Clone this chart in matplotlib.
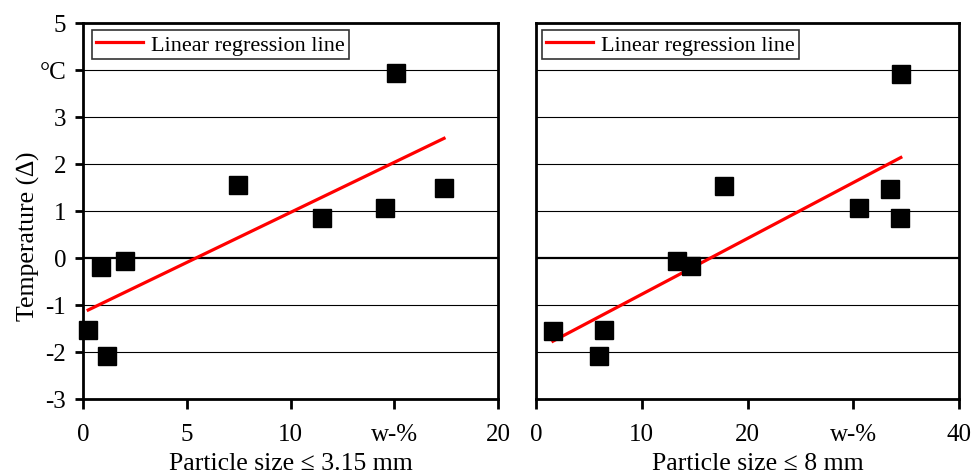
import numpy as np
import matplotlib
matplotlib.use("Agg")
import matplotlib.pyplot as plt

# ===== Data =====
x_315 = [7.47, 11.5, 14.55, 15.08, 17.4, 0.85, 2.02, 0.25, 1.16]
y_315 = [1.55, 0.85, 1.06, 3.93, 1.49, -0.19, -0.06, -1.53, -2.09]
fit_315 = [0.213, -1.16]  # slope, intercept

x_8 = [17.8, 34.5, 33.5, 30.5, 34.4, 13.3, 14.65, 1.6, 6.4, 5.96]
y_8 = [1.53, 3.92, 1.47, 1.06, 0.85, -0.06, -0.18, -1.55, -1.53, -2.09]
fit_8 = [0.1188, -1.96]

y_ticks = [-3, -2, -1, 0, 1, 2, 3, 4, 5]
y_ticklabels = ["-3", "-2", "-1", "0", "1", "2", "3", "\u00b0C", "5"]
x_ticks_315 = [0, 5, 10, 15, 20]
x_ticklabels_315 = ["0", "5", "10", "w-%", "20"]
x_ticks_8 = [0, 10, 20, 30, 40]
x_ticklabels_8 = ["0", "10", "20", "w-%", "40"]
# ==========================================

plt.rcParams['font.family'] = ['Liberation Serif', 'DejaVu Serif']
TICK_FS = 18
LABEL_FS = 18.5
LEG_FS = 16


def draw_panel(ax, x, y, fit, xticks, xticklabels, xlabel, show_y, leg_dx):
    ax.set_xlim(xticks[0], xticks[-1])
    ax.set_ylim(-3, 5)
    for yt in y_ticks[1:-1]:
        lw = 1.6 if yt == 0 else 0.8
        ax.axhline(yt, color='black', lw=lw, zorder=1)
    xs = np.array([min(x), max(x)])
    ax.plot(xs, fit[0] * xs + fit[1], color='red', lw=2.3,
            label='Linear regression line', zorder=3)
    ax.plot(x, y, 's', color='black', ms=13.5, zorder=4, clip_on=False)
    for s in ax.spines.values():
        s.set_linewidth(2)
    ax.set_xticks(xticks)
    ax.set_xticklabels(xticklabels, fontsize=TICK_FS)
    ax.tick_params(axis='x', direction='out', length=7, width=2, pad=10)
    ax.set_yticks(y_ticks)
    if show_y:
        ax.set_yticklabels(y_ticklabels, fontsize=TICK_FS)
        ax.tick_params(axis='y', direction='out', length=6, width=2, pad=6)
    else:
        ax.tick_params(axis='y', length=0, labelleft=False)
    ax.set_xlabel(xlabel, fontsize=LABEL_FS, labelpad=5)
    w = ax.get_position().width * 972
    leg = ax.legend(loc='upper left', bbox_to_anchor=(leg_dx / w, 1 - 7 / 376),
                    fontsize=LEG_FS, frameon=True, fancybox=False,
                    borderaxespad=0, borderpad=0.2, handlelength=2.1,
                    handletextpad=0.35)
    leg.get_frame().set_edgecolor('black')
    leg.get_frame().set_linewidth(1.2)


fig = plt.figure(figsize=(9.72, 4.77), dpi=100)
ax1 = fig.add_axes([83 / 972, 1 - 400 / 477, 415 / 972, 376 / 477])
ax2 = fig.add_axes([536 / 972, 1 - 400 / 477, 423 / 972, 376 / 477])

draw_panel(ax1, x_315, y_315, fit_315, x_ticks_315, x_ticklabels_315,
           "Particle size \u2264 3.15 mm", True, 9)
draw_panel(ax2, x_8, y_8, fit_8, x_ticks_8, x_ticklabels_8,
           "Particle size \u2264 8 mm", False, 6)
ax2.xaxis.label.set_x(0.524)
ax1.set_ylabel("Temperature (\u2206)", fontsize=LABEL_FS, labelpad=0)
ax1.yaxis.label.set_y(0.436)

fig.savefig("out.png", dpi=100)
